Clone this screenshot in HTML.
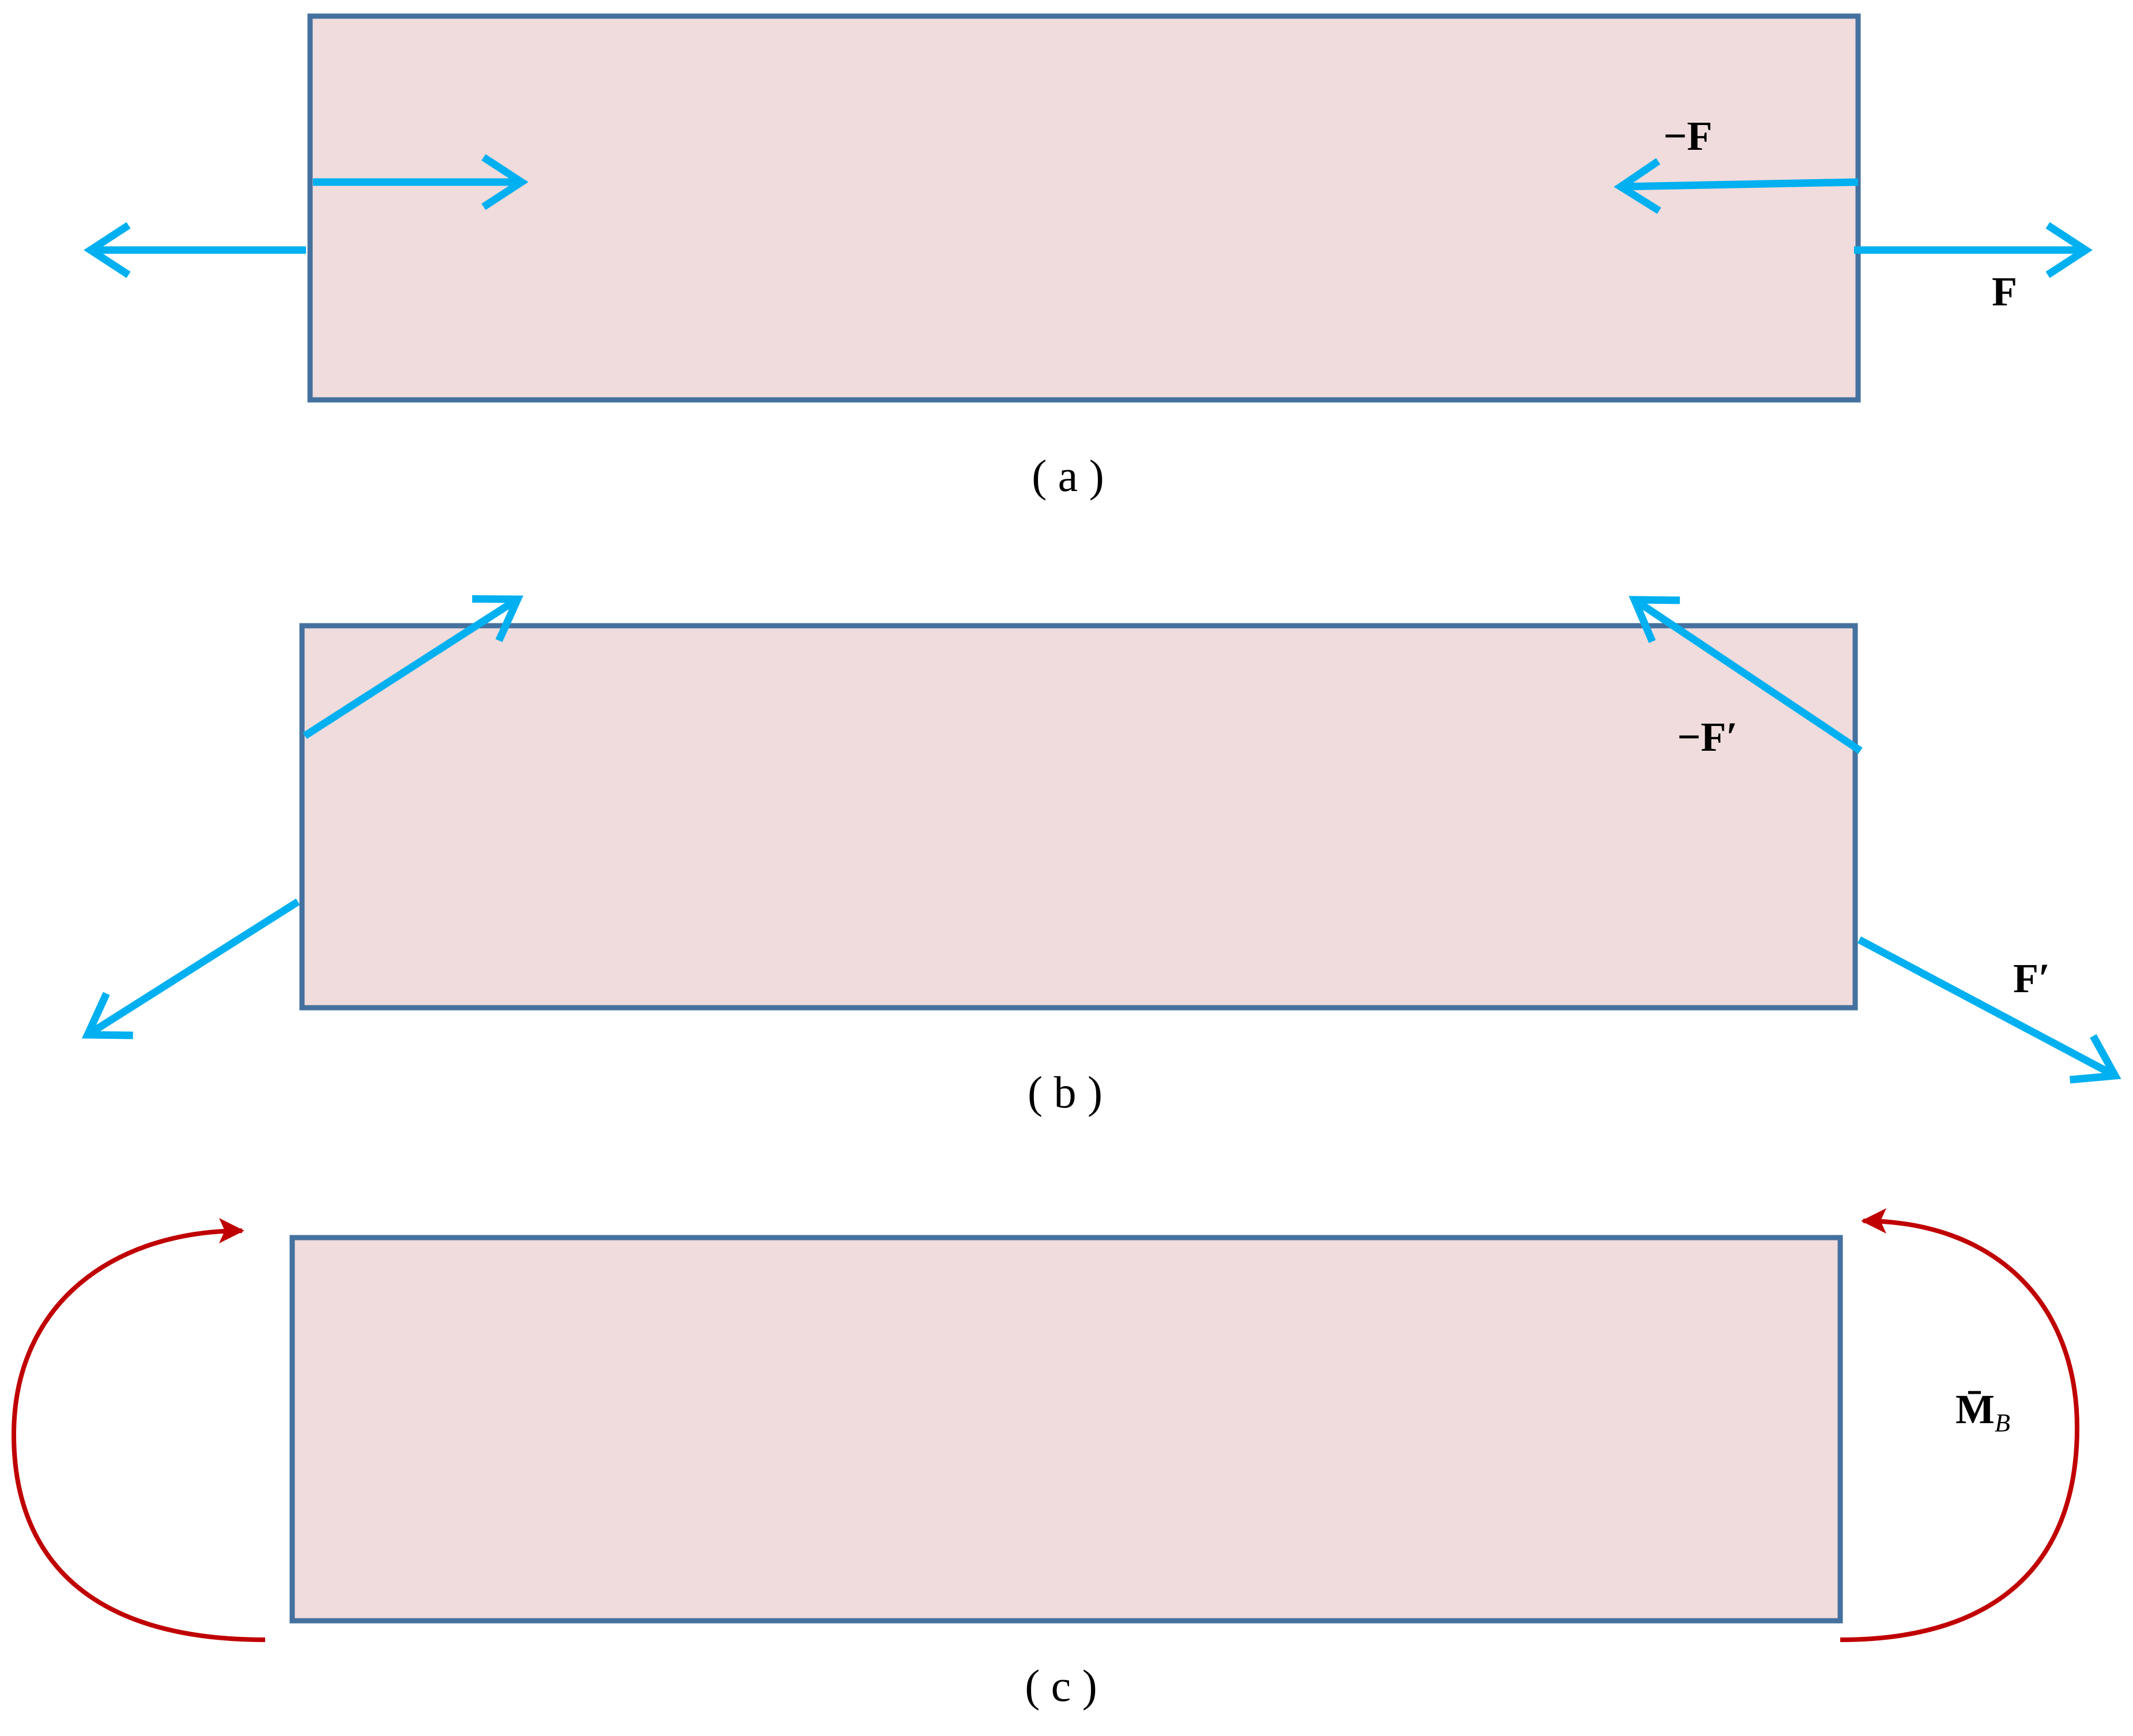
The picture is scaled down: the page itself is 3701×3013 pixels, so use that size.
<!DOCTYPE html>
<html><head><meta charset="utf-8"><style>
html,body{margin:0;padding:0;background:#fff;}
svg{display:block;}
text{font-family:"Liberation Serif",serif;fill:#000;}
</style></head><body>
<svg width="3701" height="3013" viewBox="0 0 3701 3013" xmlns="http://www.w3.org/2000/svg">
<defs>
<marker id="bh" markerUnits="userSpaceOnUse" markerWidth="100" markerHeight="110" refX="74" refY="50" orient="auto">
<path d="M8,7 L74,50 L8,93" fill="none" stroke="#00b0f0" stroke-width="13"/>
</marker>
<marker id="rh" markerUnits="userSpaceOnUse" markerWidth="60" markerHeight="60" refX="40" refY="22" orient="auto">
<path d="M0,0 L44,22 L0,44 L10,22 Z" fill="#c00000"/>
</marker>
</defs>
<g fill="#f0dcdc" stroke="#44719f" stroke-width="9">
<rect x="538" y="28" width="2686" height="666"/>
<rect x="524" y="1086" width="2695" height="663"/>
<rect x="507" y="2148" width="2686" height="665"/>
</g>
<g stroke="#00b0f0" stroke-width="13" fill="none">
<line x1="543" y1="316" x2="905" y2="316" marker-end="url(#bh)"/>
<line x1="3224" y1="316" x2="2812" y2="324" marker-end="url(#bh)"/>
<line x1="531" y1="434" x2="157" y2="434" marker-end="url(#bh)"/>
<line x1="3217" y1="434" x2="3619" y2="434" marker-end="url(#bh)"/>
<line x1="529" y1="1277" x2="898" y2="1040" marker-end="url(#bh)"/>
<line x1="3228" y1="1303" x2="2836" y2="1041" marker-end="url(#bh)"/>
<line x1="517" y1="1565" x2="152" y2="1796" marker-end="url(#bh)"/>
<line x1="3226" y1="1631" x2="3670" y2="1867" marker-end="url(#bh)"/>
</g>
<g stroke="#c00000" stroke-width="8" fill="none">
<path d="M460,2846 C150,2846 24,2700 24,2490 C24,2260 200,2136 420,2136" marker-end="url(#rh)"/>
<path d="M3193,2846 C3480,2846 3604,2700 3604,2478 C3604,2260 3460,2119 3233,2119" marker-end="url(#rh)"/>
</g>
<g font-weight="bold" font-size="72">
<text x="2886" y="260">−F</text>
<text x="3456" y="530">F</text>
<text x="2910" y="1303">−F′</text>
<text x="3493" y="1722">F′</text>
<text x="3393" y="2470">M̄<tspan font-size="44" font-style="italic" font-weight="normal" dy="14">B</tspan></text>
</g>
<g font-size="78" text-anchor="middle">
<text x="1853" y="852">( a )</text>
<text x="1848" y="1922">( b )</text>
<text x="1841" y="2952">( c )</text>
</g>
</svg>
</body></html>
